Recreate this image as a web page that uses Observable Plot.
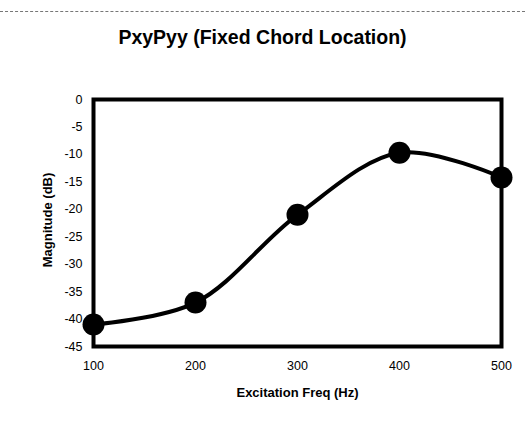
<!DOCTYPE html>
<html>
<head>
<meta charset="utf-8">
<script src="https://cdn.jsdelivr.net/npm/d3@7"></script>
<script src="https://cdn.jsdelivr.net/npm/@observablehq/plot@0.6"></script>
<style>
  html, body { margin: 0; padding: 0; background: #fff; }
  body { width: 525px; height: 422px; overflow: hidden; position: relative; font-family: "Liberation Sans", Arial, sans-serif; }
  #topline { position: absolute; left: 0; top: 11px; width: 525px; border-top: 1px dashed #777; }
  #title { position: absolute; left: 0; top: 28px; width: 525px; line-height: 19.5px; text-align: center; font-size: 19.5px; font-weight: bold; color: #000; }
  #chart { position: absolute; left: 0; top: 70px; }
</style>
</head>
<body>
<div id="topline"></div>
<div id="title">PxyPyy (Fixed Chord Location)</div>
<div id="chart"></div>
<script>
const freqs = [100, 200, 300, 400, 500];
const magnitudes = [-41, -37, -21, -9.7, -14.2];
const xTicks = [100, 200, 300, 400, 500];
const yTicks = [0, -5, -10, -15, -20, -25, -30, -35, -40, -45];
const xLabel = "Excitation Freq (Hz)";
const yLabel = "Magnitude (dB)";

const data = freqs.map((f, i) => ({f, m: magnitudes[i]}));

const chart = Plot.plot({
  width: 525,
  height: 352,
  marginLeft: 93,
  marginRight: 24,
  marginTop: 29,
  marginBottom: 76,
  style: {fontFamily: "'Liberation Sans', Arial, sans-serif", fontSize: "12.5px", color: "#000", background: "#fff"},
  x: {domain: [100, 500], ticks: xTicks, tickSize: 0, tickPadding: 15, label: null, tickFormat: d => String(d)},
  y: {domain: [-45, 0], ticks: yTicks, tickSize: 0, tickPadding: 11, label: null, tickFormat: d => String(d)},
  marks: [
    Plot.line(data, {x: "f", y: "m", curve: "catmull-rom", stroke: "#000", strokeWidth: 4}),
    Plot.dot(data, {x: "f", y: "m", r: 11, fill: "#000", stroke: "none"}),
    Plot.frame({stroke: "#000", strokeWidth: 4}),
    Plot.text([yLabel], {frameAnchor: "left", textAnchor: "middle", lineAnchor: "middle", dx: -46, dy: -3, rotate: -90, fontWeight: "bold", fontSize: 13, fill: "#000"}),
    Plot.text([xLabel], {frameAnchor: "bottom", dy: 50, fontWeight: "bold", fontSize: 13, fill: "#000"})
  ]
});
document.getElementById("chart").appendChild(chart);
</script>
</body>
</html>
